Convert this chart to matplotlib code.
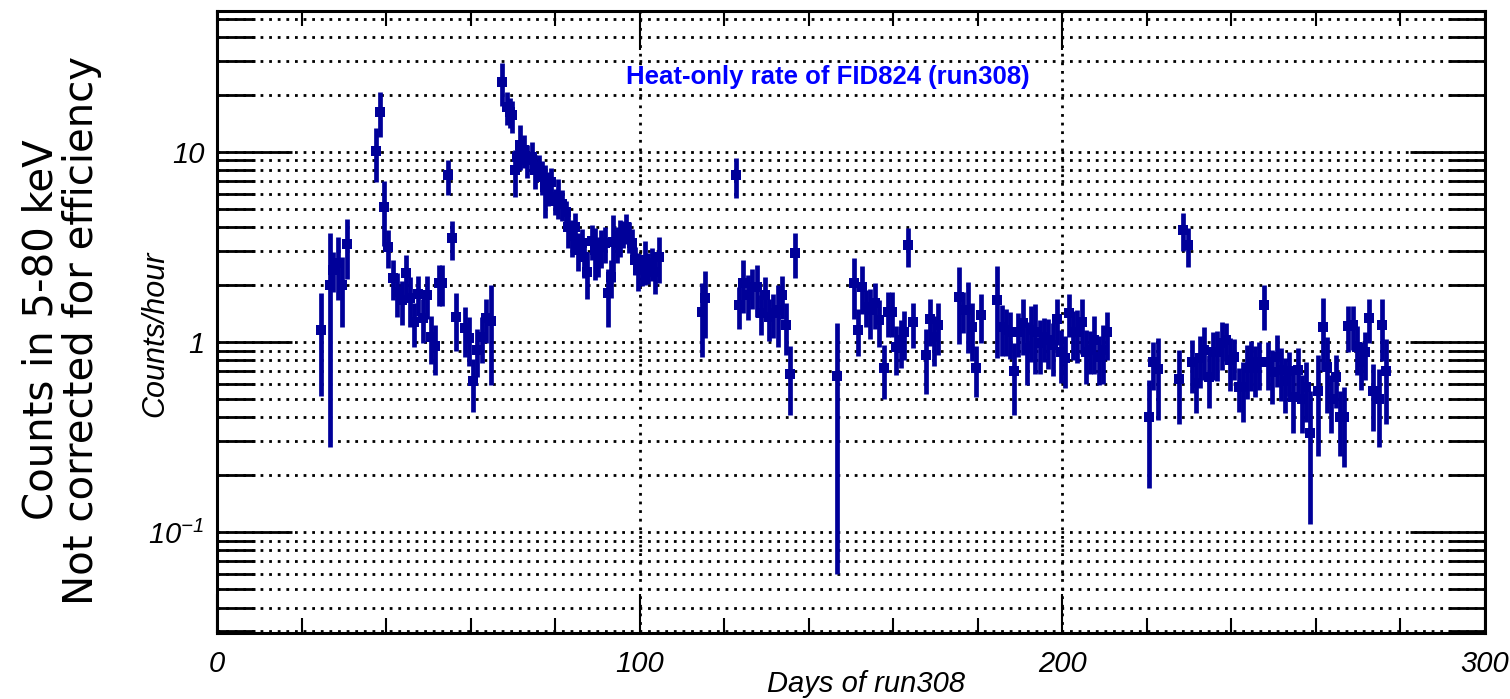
import numpy as np
import matplotlib.pyplot as plt
from matplotlib.ticker import FixedLocator, FixedFormatter, LogLocator, MultipleLocator, NullFormatter

# Heat-only rate per day bin
day = [24.6, 26.7, 27.4, 28.6, 29.6, 30.8,
       37.6, 38.6, 39.5, 40.5, 41.7, 42.6, 43.8, 44.7, 45.7, 46.6, 47.6, 48.7, 49.7,
       50.6, 51.6, 52.5, 53.3, 54.7, 55.6, 56.5, 58.6, 59.6, 60.6, 61.5, 62.7, 63.6, 64.8,
       67.4, 68.6, 69.3, 69.8, 70.5, 71.0, 71.7, 72.6, 73.3, 74.5, 75.2, 76.2, 76.9, 77.6,
       78.3, 79.0, 80.0, 80.7, 81.6, 82.6, 83.0, 84.0, 84.7, 85.4, 86.4, 86.8, 87.5, 88.7,
       89.4, 90.1, 90.8, 91.8, 92.5, 93.2, 93.7, 94.6, 95.3, 96.0, 96.8, 97.5, 98.2, 98.9,
       99.6, 100.5, 101.3, 102.0, 102.9, 103.6, 104.6,
       114.7, 115.4, 122.8, 123.5, 124.4, 125.6, 126.6, 127.7, 128.7, 129.6, 130.6, 131.5,
       132.7, 133.7, 134.6, 135.6, 136.7, 146.7,
       150.7, 151.6, 152.6, 153.5, 154.5, 155.7, 156.6, 157.8, 158.7, 159.7, 160.6, 161.8,
       162.5, 163.5, 164.7, 167.7, 168.7, 169.6, 170.6,
       175.5, 176.5, 177.7, 178.6, 179.6, 180.7,
       184.5, 185.7, 186.7, 187.6, 188.6, 189.5, 190.7, 191.6, 192.6, 193.5, 194.7, 195.6,
       196.6, 197.8, 198.7, 199.7, 200.6, 201.6, 202.5, 203.5, 204.6, 205.6, 206.5, 207.5,
       208.7, 209.6, 210.5,
       220.5, 221.5, 222.6, 227.6, 228.5, 229.7, 230.7, 231.6, 232.6, 233.5, 234.7, 235.6,
       236.6, 237.8, 238.7, 239.6, 240.6, 241.8, 242.7, 243.7, 244.6, 245.6, 246.5, 247.7,
       248.6, 249.6, 250.8, 251.7, 252.7, 253.6, 254.6, 255.7, 256.7, 257.6, 258.6, 260.5,
       261.7, 262.6, 263.5, 264.7, 265.7, 266.6, 267.6, 268.7, 269.7, 270.6, 271.6, 272.6,
       273.5, 274.9, 275.6, 276.6]

rate = [1.16, 2.0, 2.39, 2.6, 2.0, 3.28,
        10.1, 16.2, 5.1, 3.16, 2.17, 1.83, 1.66, 2.3, 1.7, 1.27, 1.79, 1.34, 1.77,
        1.06, 0.95, 2.04, 2.04, 7.5, 3.5, 1.35, 1.18, 1.05, 0.62, 0.91, 1.06, 1.34, 1.29,
        23.3, 17.2, 16.2, 15.6, 8.0, 9.4, 10.9, 10.2, 9.1, 9.4, 8.0, 8.3, 7.4, 6.5,
        6.5, 6.9, 5.5, 5.8, 5.3, 4.8, 4.0, 3.6, 4.0, 3.05, 3.3, 2.8, 2.33, 3.4,
        3.05, 2.87, 3.16, 3.3, 1.81, 2.2, 3.36, 3.3, 3.6, 3.7, 4.0, 3.6, 3.3, 2.7,
        2.39, 2.39, 2.7, 2.48, 2.6, 2.33, 2.8,
        1.44, 1.7, 7.5, 1.56, 2.05, 1.77, 1.95, 1.95, 1.42, 1.77, 1.35, 1.42,
        1.47, 1.77, 1.23, 0.68, 2.94, 0.66,
        2.04, 1.16, 1.95, 1.53, 1.47, 1.6, 1.3, 0.73, 1.44, 1.44, 0.94, 1.02,
        1.13, 3.24, 1.27, 0.85, 1.32, 1.06, 1.23,
        1.72, 1.47, 1.47, 1.2, 0.73, 1.39,
        1.66, 1.2, 1.16, 1.12, 0.7, 1.12, 1.26, 0.93, 1.16, 1.13, 0.99, 1.06,
        1.02, 0.96, 1.32, 0.88, 0.82, 1.42, 1.13, 1.12, 1.27, 0.88, 0.91, 1.02,
        0.83, 0.91, 1.12,
        0.40, 0.78, 0.72, 0.64, 3.88, 3.24, 0.78, 0.61, 0.82, 0.91, 0.65, 0.88,
        0.88, 0.99, 1.02, 0.8, 0.83, 0.58, 0.58, 0.73, 0.78, 0.73, 0.78, 1.57,
        0.78, 0.69, 0.83, 0.71, 0.62, 0.7, 0.51, 0.71, 0.5, 0.58, 0.33, 0.55,
        1.2, 0.74, 0.5, 0.65, 0.4, 0.4, 1.21, 1.23, 0.94, 0.78, 0.88, 1.34,
        0.55, 0.5, 1.23, 0.7]

err = [0.64, 1.72, 0.57, 0.94, 0.8, 1.14,
       3.2, 4.3, 1.9, 0.72, 0.52, 0.48, 0.43, 0.57, 0.5, 0.33, 0.43, 0.35, 0.45,
       0.3, 0.28, 0.49, 0.49, 1.6, 0.8, 0.46, 0.35, 0.3, 0.19, 0.26, 0.29, 0.35, 0.7,
       6.0, 3.3, 2.9, 3.0, 2.2, 1.8, 2.9, 2.0, 1.8, 1.8, 1.6, 1.3, 1.5, 2.0,
       1.3, 1.3, 0.85, 1.35, 1.0, 0.7, 0.9, 0.8, 0.75, 0.7, 0.64, 0.63, 0.65, 0.7,
       0.93, 0.68, 0.72, 0.7, 0.62, 0.5, 1.3, 0.7, 0.8, 0.6, 0.73, 0.65, 0.6, 0.45,
       0.55, 0.43, 0.7, 0.47, 0.5, 0.54, 0.76,
       0.61, 0.65, 1.8, 0.39, 0.64, 0.47, 0.47, 0.6, 0.34, 0.42, 0.34, 0.37,
       0.53, 0.45, 0.38, 0.27, 0.78, 0.6,
       0.72, 0.32, 0.55, 0.34, 0.43, 0.43, 0.36, 0.23, 0.38, 0.38, 0.27, 0.29,
       0.33, 0.75, 0.34, 0.32, 0.37, 0.31, 0.38,
       0.75, 0.36, 0.6, 0.41, 0.22, 0.4,
       0.84, 0.36, 0.32, 0.31, 0.29, 0.29, 0.41, 0.34, 0.38, 0.45, 0.31, 0.28,
       0.3, 0.3, 0.36, 0.27, 0.25, 0.36, 0.33, 0.35, 0.41, 0.28, 0.23, 0.34,
       0.24, 0.31, 0.32,
       0.23, 0.22, 0.33, 0.27, 0.88, 0.75, 0.24, 0.19, 0.25, 0.28, 0.2, 0.25,
       0.26, 0.28, 0.23, 0.25, 0.2, 0.15, 0.2, 0.23, 0.23, 0.22, 0.22, 0.41,
       0.22, 0.22, 0.25, 0.22, 0.2, 0.18, 0.18, 0.22, 0.17, 0.2, 0.22, 0.3,
       0.5, 0.32, 0.17, 0.2, 0.15, 0.18, 0.33, 0.32, 0.27, 0.22, 0.25, 0.35,
       0.21, 0.22, 0.44, 0.33]

ytick_vals = [0.1, 1, 10]
ytick_labels = ["$10^{-1}$", "1", "10"]

sans = ["Liberation Sans", "DejaVu Sans"]
plt.rcParams["mathtext.fontset"] = "custom"
plt.rcParams["mathtext.rm"] = "Liberation Sans:italic"
plt.rcParams["mathtext.it"] = "Liberation Sans:italic"

fig = plt.figure(figsize=(15.1, 6.99), dpi=100)
ax = fig.add_axes([217 / 1510, 1 - 633 / 699, 1268 / 1510, 622 / 699])

ax.errorbar(day, rate, yerr=err, fmt="s", color="#000099", ms=6.5, mew=0,
            elinewidth=3.4, capsize=0, zorder=3)

ax.set_yscale("log")
ax.set_xlim(0, 300)
ax.set_ylim(0.0294, 55)

ax.xaxis.set_major_locator(MultipleLocator(100))
ax.xaxis.set_minor_locator(MultipleLocator(20))
ax.yaxis.set_major_locator(FixedLocator(ytick_vals))
ax.yaxis.set_major_formatter(FixedFormatter(ytick_labels))
ax.yaxis.set_minor_locator(LogLocator(base=10, subs=np.arange(2, 10)))
ax.yaxis.set_minor_formatter(NullFormatter())

# dotted grid: every y tick, x majors only
dots = dict(color="black", linestyle=(0, (1, 2.1)), linewidth=2.0)
ax.yaxis.grid(True, which="both", **dots)
ax.xaxis.grid(True, which="major", **dots)
ax.set_axisbelow(True)

ax.tick_params(axis="y", which="major", direction="in", length=54, width=2,
               left=True, right=True, pad=9)
ax.tick_params(axis="y", which="minor", direction="in", length=27, width=2,
               left=True, right=True)
ax.tick_params(axis="x", which="major", direction="in", length=28, width=1.5,
               top=True, bottom=True, pad=12)
ax.tick_params(axis="x", which="minor", direction="in", length=11, width=1.5,
               top=True, bottom=True)
for s in ax.spines.values():
    s.set_linewidth(2.2)

for lbl in ax.get_xticklabels() + ax.get_yticklabels():
    lbl.set_family(sans)
    lbl.set_style("italic")
    lbl.set_fontsize(21)

fig.text(828 / 1510, 1 - 77 / 699, "Heat-only rate of FID824 (run308)",
         color="#0000ff", fontweight="bold", family=sans, fontsize=18.5,
         ha="center", va="center")
fig.text(866 / 1510, 1 - 692 / 699, "Days of run308", family=sans,
         style="italic", fontsize=21, ha="center", va="baseline")
fig.text(155 / 1510, 1 - 334 / 699, "Counts/hour", family=sans,
         style="italic", fontsize=22, rotation=90, ha="center", va="center")
fig.text(62 / 1510, 1 - 330 / 699,
         "Counts in 5-80 keV\nNot corrected for efficiency",
         family="DejaVu Sans", fontsize=29, rotation=90, linespacing=1.0,
         ha="center", va="center", multialignment="center")

fig.savefig("out.png", dpi=100)
